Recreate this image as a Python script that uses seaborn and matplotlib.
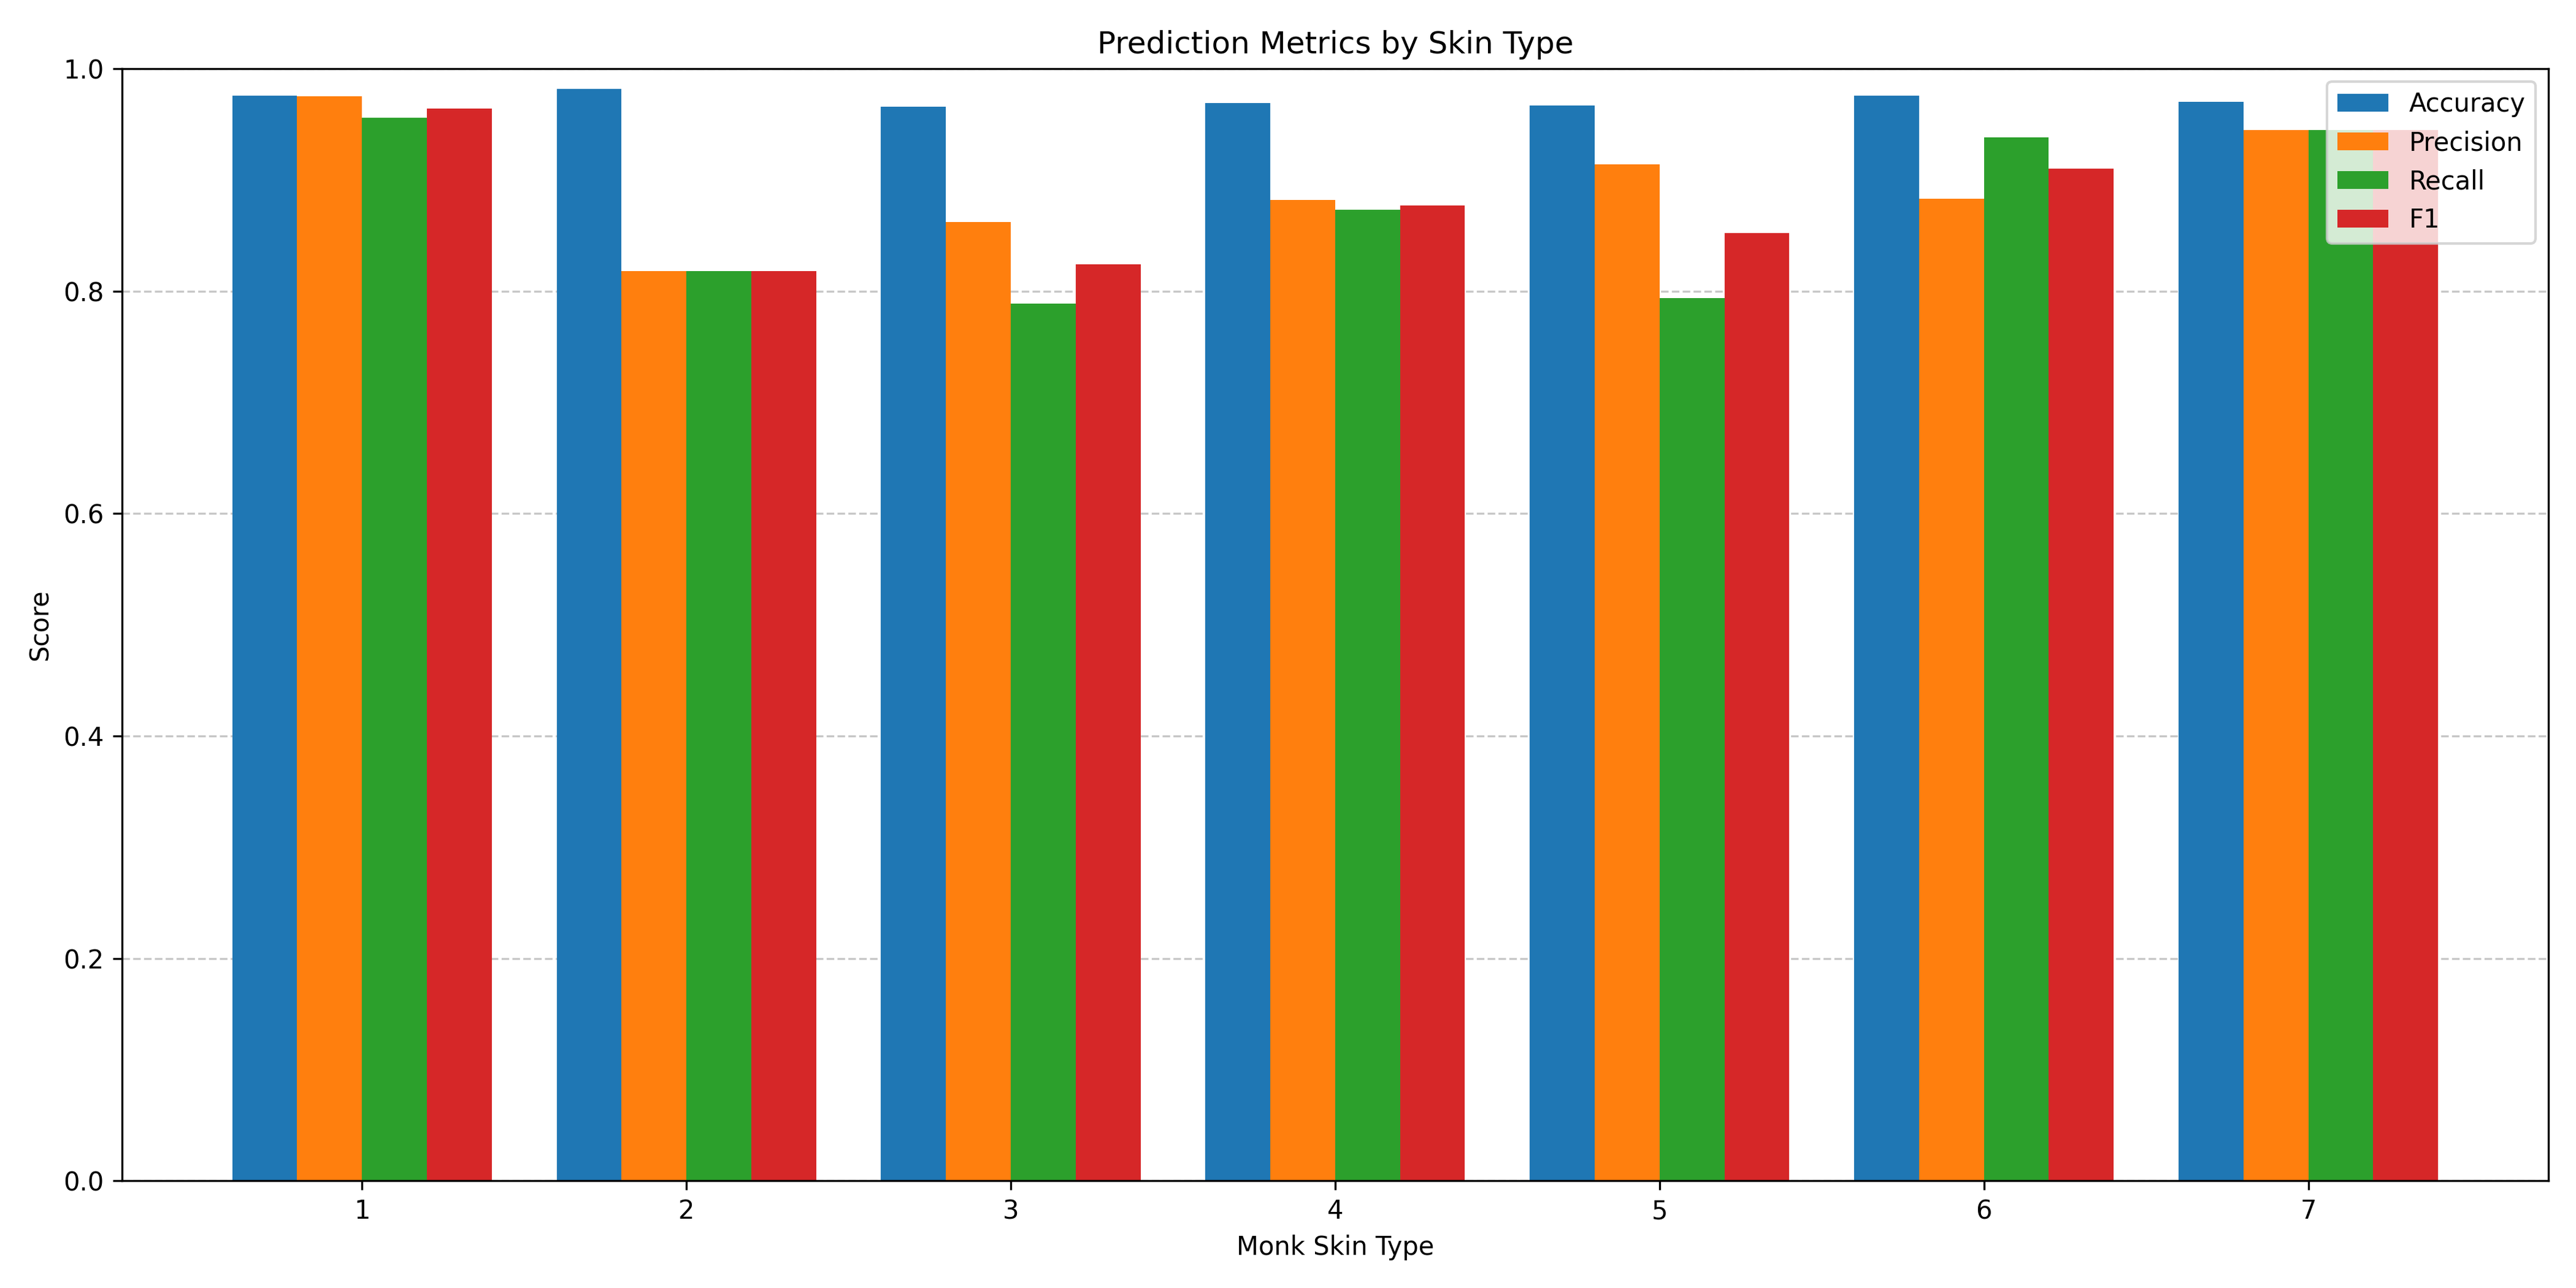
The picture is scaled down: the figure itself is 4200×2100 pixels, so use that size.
import matplotlib
matplotlib.use("Agg")
import matplotlib.pyplot as plt
import seaborn as sb
import pandas as pd

skin_types = ["1", "2", "3", "4", "5", "6", "7"]
accuracy = [0.976, 0.982, 0.966, 0.969, 0.967, 0.976, 0.970]
precision = [0.975, 0.818, 0.862, 0.882, 0.914, 0.883, 0.945]
recall = [0.956, 0.818, 0.789, 0.873, 0.794, 0.938, 0.945]
f1 = [0.964, 0.818, 0.824, 0.877, 0.852, 0.910, 0.945]

metrics = {"Accuracy": accuracy, "Precision": precision, "Recall": recall, "F1": f1}
rows = []
for name, vals in metrics.items():
    for t, v in zip(skin_types, vals):
        rows.append({"Monk Skin Type": t, "Metric": name, "Score": v})
df = pd.DataFrame(rows)

plt.figure(figsize=(14, 7))
ax = sb.barplot(data=df, x="Monk Skin Type", y="Score", hue="Metric",
                palette=["#1f77b4", "#ff7f0e", "#2ca02c", "#d62728"],
                saturation=1, linewidth=0, width=0.8, errorbar=None)
ax.set_ylim(0, 1.0)
ax.set_xlim(-0.74, len(skin_types) - 1 + 0.74)
ax.set_title("Prediction Metrics by Skin Type")
ax.set_xlabel("Monk Skin Type")
ax.set_ylabel("Score")
ax.grid(axis="y", linestyle="--", alpha=0.7)
ax.set_axisbelow(True)
ax.legend(title=None, loc="upper right")

plt.tight_layout()
plt.savefig("out.png", dpi=300)
